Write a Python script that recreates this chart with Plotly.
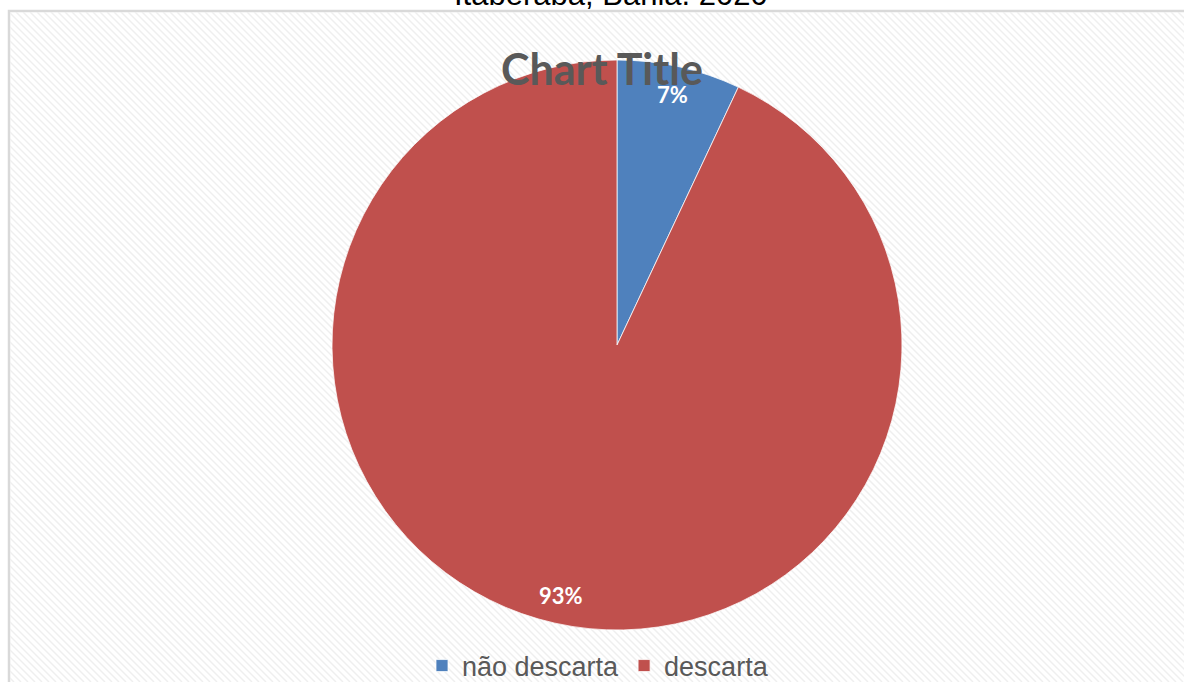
import math
import plotly.graph_objects as go

# --- data ---
categories = ["não descarta", "descarta"]
shares = [7, 93]
slice_colors = ["#4F81BD", "#C0504D"]
title_text = "Chart Title"
caption_text = "Itaberaba, Bahia. 2020"

# --- page geometry (pixels) ---
W, H = 1184, 682
CX, CY, R = 617, 345, 285
BOX_LEFT, BOX_TOP = 10, 12

fig = go.Figure()

fig.add_trace(go.Pie(
    labels=categories,
    values=shares,
    sort=False,
    direction="clockwise",
    rotation=0,
    marker=dict(colors=slice_colors, line=dict(color="rgba(255,255,255,0.75)", width=1)),
    textinfo="none",
    hoverinfo="label+percent",
    domain=dict(x=[(CX - R) / W, (CX + R) / W], y=[(H - CY - R) / H, (H - CY + R) / H]),
))

# empty cartesian trace so a pixel-scaled axis pair exists for the background
fig.add_trace(go.Scatter(x=[], y=[], showlegend=False, hoverinfo="skip"))

# diagonal hatch over the chart area
shapes = []
span = H - BOX_TOP
for c in range(-span, W + 8, 7):
    shapes.append(dict(type="line", xref="x", yref="y", x0=c, y0=BOX_TOP, x1=c + span, y1=H,
                       line=dict(color="#efefef", width=1.5), layer="below"))
# chart area frame
shapes.append(dict(type="rect", xref="paper", yref="paper",
                   x0=(BOX_LEFT - 1) / W, x1=1.05, y0=-0.05, y1=(H - BOX_TOP + 1) / H,
                   line=dict(color="#d9d9d9", width=2.5), fillcolor="rgba(0,0,0,0)", layer="below"))

# percentage labels placed along each slice's mid-angle
annotations = []
total = sum(shares)
cum = 0
for v in shares:
    mid = math.radians((cum + v / 2) / total * 360)
    cum += v
    rr = 0.9 * R
    annotations.append(dict(
        x=CX + rr * math.sin(mid), y=CY - rr * math.cos(mid), xref="x", yref="y",
        text=f"{round(v / total * 100)}%", showarrow=False,
        font=dict(family="Lato", size=22, color="white", weight="bold"),
        xanchor="center", yanchor="middle"))

annotations.append(dict(
    x=602 / W, y=(H - 68) / H, xref="paper", yref="paper", text=title_text, showarrow=False,
    font=dict(family="Lato", size=43, color="#595959", weight="bold"),
    xanchor="center", yanchor="middle"))
annotations.append(dict(
    x=611 / W, y=(H + 6) / H, xref="paper", yref="paper", text=caption_text, showarrow=False,
    font=dict(family="Liberation Sans", size=31, color="#000000"),
    xanchor="center", yanchor="middle"))

fig.update_layout(
    width=W, height=H,
    margin=dict(l=0, r=0, t=0, b=0, autoexpand=False),
    paper_bgcolor="white", plot_bgcolor="rgba(0,0,0,0)",
    xaxis=dict(domain=[BOX_LEFT / W, 1], range=[BOX_LEFT, W], visible=False, fixedrange=True),
    yaxis=dict(domain=[0, (H - BOX_TOP) / H], range=[H, BOX_TOP], visible=False, fixedrange=True),
    shapes=shapes,
    annotations=annotations,
    showlegend=True,
    legend=dict(orientation="h", x=598 / W, xanchor="center", y=(H - 666) / H, yanchor="middle",
                font=dict(family="Liberation Sans", size=27, color="#595959"),
                bgcolor="rgba(0,0,0,0)", itemclick=False, itemdoubleclick=False),
)

fig.write_html("out.html")
